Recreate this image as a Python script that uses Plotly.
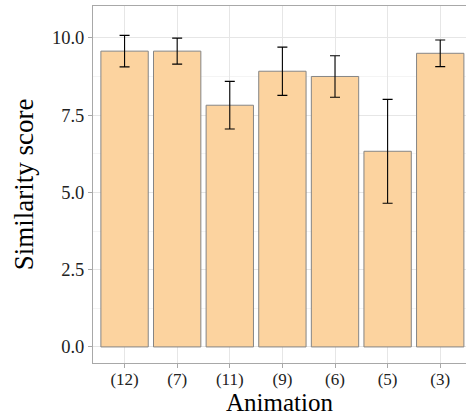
import plotly.graph_objects as go

categories = ["(12)", "(7)", "(11)", "(9)", "(6)", "(5)", "(3)"]
scores = [9.57, 9.57, 7.82, 8.92, 8.75, 6.33, 9.50]
errors = [0.51, 0.42, 0.77, 0.78, 0.67, 1.68, 0.43]
y_ticks = [0.0, 2.5, 5.0, 7.5, 10.0]
x_title = "Animation"

font_family = "Liberation Serif"
border = "#A8A8A8"

fig = go.Figure()
fig.add_trace(go.Bar(
    x=categories,
    y=scores,
    width=0.9,
    marker=dict(color="#FCD39F", line=dict(color="#858585", width=1)),
    error_y=dict(type="data", array=errors, visible=True, color="black",
                 thickness=1.1, width=5),
))

fig.update_layout(
    width=466, height=418,
    margin=dict(l=93, r=0, t=6, b=55),
    paper_bgcolor="white",
    plot_bgcolor="white",
    font=dict(family=font_family, color="#222222"),
    showlegend=False,
    bargap=0.1,
)
fig.add_annotation(
    text=x_title, xref="paper", yref="paper", x=0.5, y=0,
    xanchor="center", yanchor="bottom", yshift=-54, showarrow=False,
    borderpad=0,
    font=dict(size=25, family=font_family, color="black"),
)
fig.update_xaxes(
    range=[-0.6, 6.49],
    automargin=False,
    showgrid=True, gridcolor="#E6E6E6", gridwidth=1,
    ticks="outside", ticklen=4, tickcolor=border,
    ticklabelstandoff=-3,
    tickfont=dict(size=17, family=font_family, color="#222222"),
    showline=True, linecolor=border, linewidth=1, mirror=True,
    zeroline=False,
)
fig.update_yaxes(
    range=[-0.52, 11.03],
    automargin=False,
    tickvals=y_ticks, tickformat=".1f",
    showgrid=True, gridcolor="#E6E6E6", gridwidth=1,
    minor=dict(dtick=1.25, tick0=0, showgrid=True, gridcolor="#F4F4F4", gridwidth=1),
    ticks="outside", ticklen=4, tickcolor=border,
    tickfont=dict(size=18.5, family=font_family, color="#222222"),
    title=dict(text="Similarity score", font=dict(size=27, family=font_family, color="black"), standoff=10),
    showline=True, linecolor=border, linewidth=1, mirror=True,
    zeroline=False,
)

fig.write_html("out.html", config={"displayModeBar": False},
               post_script="document.body.style.margin='0';document.body.style.overflow='hidden';")
